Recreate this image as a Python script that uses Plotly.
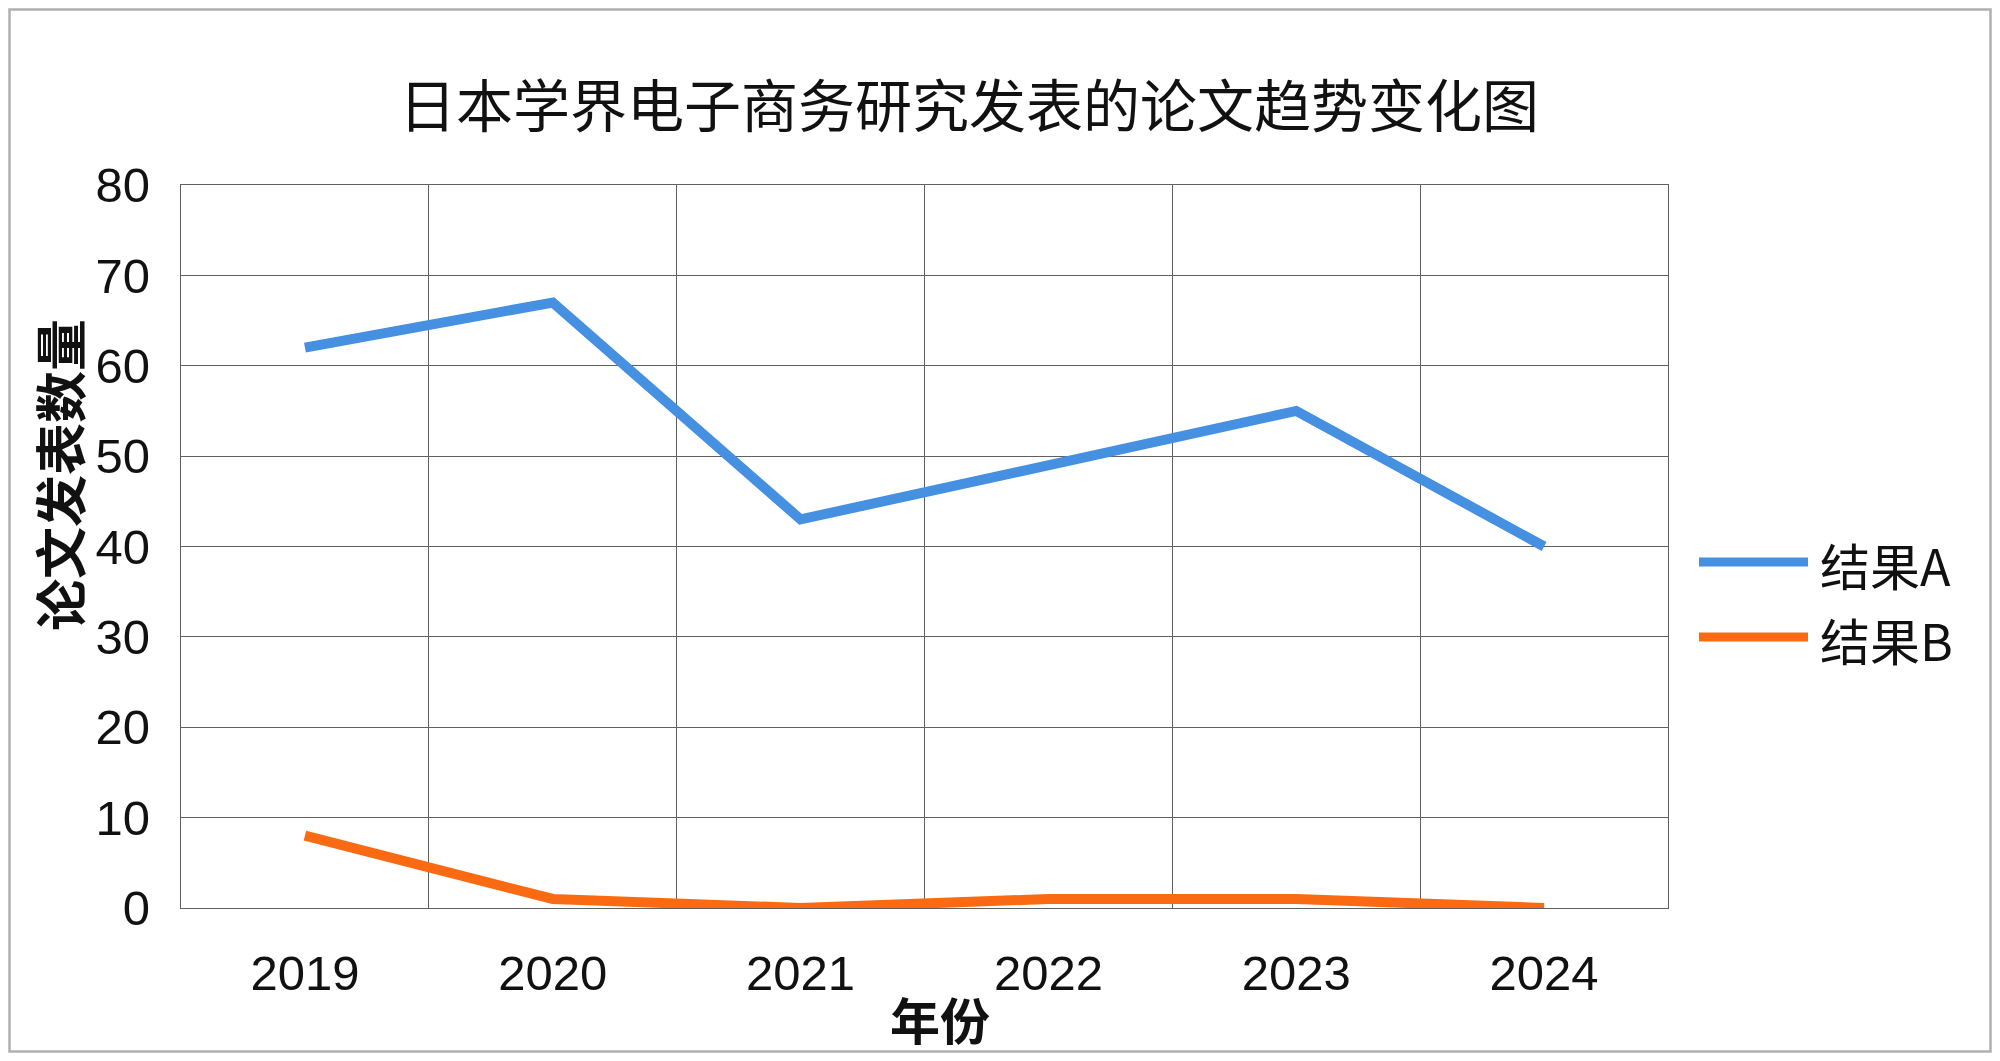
import plotly.graph_objects as go

years = ["2019", "2020", "2021", "2022", "2023", "2024"]
result_a = [62, 67, 43, 49, 55, 40]
result_b = [8, 1, 0, 1, 1, 0]
series_names = ["结果A", "结果B"]
series_colors = ["#4590E0", "#FA6A12"]
y_ticks = [0, 10, 20, 30, 40, 50, 60, 70, 80]

OFF = 8  # browser body margin
PAGE_W, PAGE_H = 2000, 1061
W, H = PAGE_W - 2 * OFF, PAGE_H - 2 * OFF
# plot area in page pixels
L, R, T, B = 181, 1668, 185, 908

def px(x):
    return (x - L) / (R - L)

def py(y):
    return (B - y) / (B - T)

CJK = "Noto Sans CJK SC, Noto Sans CJK JP, sans-serif"
NUM = "Liberation Sans, Arial, Noto Sans CJK SC, sans-serif"
GRID = "#606060"

fig = go.Figure()
xs = list(range(len(years)))
for name, vals, col in zip(series_names, [result_a, result_b], series_colors):
    fig.add_trace(go.Scatter(x=xs, y=vals, mode="lines", name=name,
                             line=dict(color=col, width=10),
                             showlegend=False, cliponaxis=False))

fig.update_layout(
    width=W, height=H,
    margin=dict(l=L - OFF, r=(OFF + W) - R, t=T - OFF, b=(OFF + H) - B, pad=0),
    paper_bgcolor="white", plot_bgcolor="white",
    showlegend=False,
    xaxis=dict(range=[-0.5, len(years) - 0.5], tickmode="array", tickvals=xs,
               ticktext=years, showgrid=False, zeroline=False,
               showline=True, mirror=True, linecolor=GRID, linewidth=1.3,
               ticks="", ticklabelstandoff=22,
               tickfont=dict(family=NUM, size=49, color="#111"),
               minor=dict(tick0=-0.5, dtick=1, showgrid=True,
                          gridcolor=GRID, gridwidth=1.3, ticks="")),
    yaxis=dict(range=[0, 80], tickmode="array", tickvals=y_ticks,
               showgrid=True, gridcolor=GRID, gridwidth=1.3,
               zeroline=False, showline=True, mirror=True, linecolor=GRID,
               linewidth=1.3, ticks="",
               ticklabelstandoff=20,
               tickfont=dict(family=NUM, size=49, color="#111")),
)

# chart title
fig.add_annotation(text="日本学界电子商务研究发表的论文趋势变化图",
                   xref="paper", yref="paper", x=px(969), y=py(102),
                   showarrow=False, xanchor="center", yanchor="middle",
                   font=dict(family=CJK, size=57, color="#111"))
# axis titles
fig.add_annotation(text="<b>年份</b>", xref="paper", yref="paper",
                   x=px(940), y=py(1018), showarrow=False,
                   xanchor="center", yanchor="middle",
                   font=dict(family=CJK, size=50, color="#111"))
fig.add_annotation(text="<b>论文发表数量</b>", xref="paper", yref="paper",
                   x=px(58), y=py(475), showarrow=False, textangle=-90,
                   xanchor="center", yanchor="middle",
                   font=dict(family=CJK, size=52, color="#111"))

# legend drawn manually
leg_y = [562, 637]
for name, col, yy in zip(series_names, series_colors, leg_y):
    fig.add_shape(type="line", xref="paper", yref="paper",
                  x0=px(1699), x1=px(1808), y0=py(yy), y1=py(yy),
                  line=dict(color=col, width=9))
    fig.add_annotation(text=name, xref="paper", yref="paper",
                       x=px(1818), y=py(yy + 2), showarrow=False,
                       xanchor="left", yanchor="middle",
                       font=dict(family=CJK, size=50, color="#111"))

# outer frame
fig.add_shape(type="rect", xref="paper", yref="paper",
              x0=px(OFF + 1.5), x1=px(OFF + W - 1.5),
              y0=py(OFF + H - 1.5), y1=py(OFF + 1.5),
              line=dict(color="#B0B0B0", width=2.5), fillcolor="rgba(0,0,0,0)",
              layer="below")

fig.write_html("out.html")
